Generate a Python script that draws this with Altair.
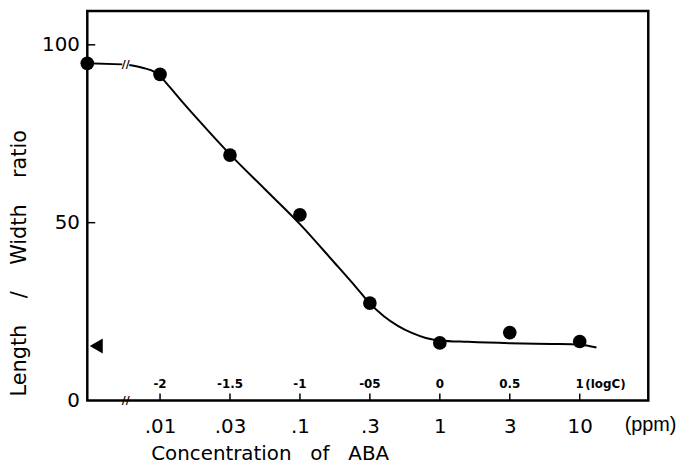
import altair as alt
import pandas as pd

FONT = "DejaVu Sans"

# measured points: x = log10 of ABA concentration (ppm); first point is the control (left edge)
point_logc = [-2.52, -2.0, -1.5, -1.0, -0.5, 0.0, 0.5, 1.0]
point_ratio = [94.8, 91.7, 69.0, 52.2, 27.4, 16.2, 19.1, 16.6]

# hand-traced fitted curve (two pieces, separated by the axis break)
curve_logc = [-2.52, -2.27,
              -2.22, -2.12, -2.04, -2.0, -1.95, -1.85, -1.72, -1.5, -1.25, -1.0, -0.75,
              -0.6, -0.5, -0.4, -0.3, -0.2, -0.1, 0.0, 0.2, 0.5, 0.8, 1.0, 1.12]
curve_ratio = [94.8, 94.5,
               94.3, 93.5, 92.4, 91.2, 89.0, 84.4, 78.6, 69.2, 59.4, 49.6, 38.6,
               31.9, 27.3, 23.7, 21.0, 19.0, 17.6, 16.9, 16.5, 16.1, 15.9, 15.7, 14.9]
curve_piece = [1] * 2 + [2] * 23

# tick positions and labels
tick_logc = [-2, -1.5, -1, -0.5, 0, 0.5, 1]
ppm_labels = [".01", ".03", ".1", ".3", "1", "3", "10"]
logc_labels = ["-2", "-1.5", "-1", "-05", "0", "0.5", "1"]
y_ticks = [0, 50, 100]
y_inner_ticks = [50, 100]

# control-level marker (triangle)
marker_logc = [-2.456]
marker_ratio = [15.3]

# axis-break position
break_logc = [-2.245, -2.245]
break_ratio = [94.4, 0]

xs = alt.Scale(domain=[-2.52, 1.49], nice=False, zero=False)
ys = alt.Scale(domain=[0, 109.5], nice=False, zero=False)


def label_expr(vals, labels):
    expr = "''"
    for v, l in zip(reversed(vals), reversed(labels)):
        expr = f"abs(datum.value - ({v})) < 0.01 ? '{l}' : {expr}"
    return expr


NB = "\u00a0"

x_axis = alt.Axis(values=tick_logc, labelExpr=label_expr(tick_logc, ppm_labels),
                  domain=False, ticks=False, tickSize=0, grid=False,
                  labelFont=FONT, labelFontSize=20, labelColor="black",
                  labelPadding=26, labelBaseline="middle", labelAngle=0,
                  labelFlush=False, labelOverlap=False,
                  title="Concentration" + NB * 3 + "of" + NB * 3 + "ABA",
                  titleFont=FONT, titleFontSize=20, titleFontWeight="normal",
                  titleColor="black", titleX=184, titleY=54,
                  titleAlign="center", titleBaseline="middle")

y_axis = alt.Axis(values=y_ticks, domain=False, ticks=False, tickSize=0, grid=False,
                  labelFont=FONT, labelFontSize=20, labelColor="black",
                  labelPadding=8, labelBaseline="middle",
                  labelFlush=False, labelOverlap=False,
                  title="Length" + NB * 4 + "/" + NB * 4 + "Width" + NB * 4 + "ratio",
                  titleFont=FONT, titleFontSize=21, titleFontWeight="normal",
                  titleColor="black", titleAngle=270, titleX=-68, titleY=254,
                  titleAlign="center", titleBaseline="middle")

X = alt.X("logc:Q", scale=xs, axis=x_axis)
Y = alt.Y("ratio:Q", scale=ys, axis=y_axis)

pts_df = pd.DataFrame({"logc": point_logc, "ratio": point_ratio})
curve_df = pd.DataFrame({"logc": curve_logc, "ratio": curve_ratio, "piece": curve_piece})
tick_df = pd.DataFrame({"logc": tick_logc, "lab": logc_labels})
ytick_df = pd.DataFrame({"ratio": y_inner_ticks})
marker_df = pd.DataFrame({"logc": marker_logc, "ratio": marker_ratio})
break_df = pd.DataFrame({"logc": break_logc, "ratio": break_ratio, "t": ["//", "//"]})
logc_unit_df = pd.DataFrame({"logc": [1.04], "t": ["(logC)"]})
ppm_unit_df = pd.DataFrame({"logc": [1.321], "t": ["(ppm)"]})

curve = alt.Chart(curve_df).mark_line(color="black", strokeWidth=2, interpolate="monotone").encode(
    x=X, y=Y, detail="piece:N")

points = alt.Chart(pts_df).mark_circle(color="black", size=190, opacity=1).encode(x=X, y=Y)

marker = alt.Chart(marker_df).mark_point(shape="triangle-left", filled=True, color="black",
                                         size=230, opacity=1).encode(x=X, y=Y)

xticks = alt.Chart(tick_df).mark_rule(color="black", strokeWidth=1.5).encode(
    x=X, y=alt.value(393), y2=alt.value(386))

yticks = alt.Chart(ytick_df).mark_rule(color="black", strokeWidth=1.5).encode(
    y=Y, x=alt.value(0), x2=alt.value(8))

log_labels = alt.Chart(tick_df).mark_text(font=FONT, fontSize=12, fontWeight="bold",
                                          color="black", baseline="middle").encode(
    x=X, y=alt.value(376), text="lab:N")

logc_unit = alt.Chart(logc_unit_df).mark_text(font=FONT, fontSize=12, fontWeight="bold",
                                              color="black", align="left", baseline="middle").encode(
    x=X, y=alt.value(376), text="t:N")

ppm_unit = alt.Chart(ppm_unit_df).mark_text(font="Liberation Sans", fontSize=20, color="black",
                                            align="left", baseline="middle").encode(
    x=X, y=alt.value(418), text="t:N")

breaks = alt.Chart(break_df).mark_text(font=FONT, fontSize=11, fontWeight="bold",
                                       color="black", baseline="middle").encode(
    x=X, y=Y, text="t:N")

chart = alt.layer(curve, points, marker, xticks, yticks, log_labels, logc_unit, ppm_unit, breaks).properties(
    width=566, height=393,
    autosize=alt.AutoSizeParams(type="none"),
    padding={"left": 80, "top": 1, "right": 31, "bottom": 62},
    background="white",
).configure_view(stroke="black", strokeWidth=2.5)

chart.save("out.html", embed_options={"renderer": "svg", "actions": False})
